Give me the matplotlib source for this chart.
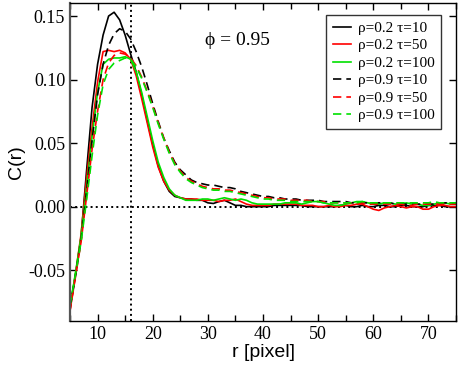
import matplotlib
matplotlib.use("Agg")
import matplotlib.pyplot as plt
from matplotlib.ticker import MultipleLocator

# r in pixels
r = list(range(5, 76))

# rho = 0.2
c_02_t10 = [-0.081, -0.054, -0.024, 0.028, 0.078, 0.112, 0.135, 0.150, 0.153, 0.147,
            0.135, 0.120, 0.106, 0.088, 0.068, 0.049, 0.032, 0.020, 0.012, 0.008,
            0.007, 0.006, 0.006, 0.005, 0.005, 0.003, 0.0025, 0.004, 0.005, 0.003,
            0.001, 0.001, 0.000, 0.000, 0.000, 0.000, 0.000, 0.001, 0.001, 0.001,
            0.001, 0.001, 0.001, 0.000, 0.000, 0.000, 0.000, 0.000, 0.000, 0.001,
            0.001, 0.000, 0.000, 0.001, 0.000, 0.000, 0.001, 0.001, 0.000, 0.000,
            0.001, 0.001, 0.000, 0.000, 0.000, 0.001, 0.001, 0.001, 0.000, 0.000,
            0.000]
c_02_t50 = [-0.082, -0.053, -0.022, 0.022, 0.062, 0.098, 0.122, 0.123, 0.122, 0.123,
            0.121, 0.116, 0.103, 0.085, 0.066, 0.047, 0.031, 0.020, 0.013, 0.009,
            0.007, 0.006, 0.006, 0.006, 0.005, 0.005, 0.005, 0.004, 0.005, 0.005,
            0.006, 0.004, 0.002, 0.001, 0.001, 0.001, 0.001, 0.002, 0.002, 0.002,
            0.002, 0.002, 0.001, 0.001, 0.001, 0.000, 0.000, 0.001, 0.000, 0.000,
            0.001, 0.001, 0.002, 0.002, 0.000, -0.002, -0.003, -0.001, 0.000, 0.001,
            0.000, -0.001, 0.000, 0.000, -0.002, -0.002, 0.000, 0.001, 0.001, 0.000,
            0.000]
c_02_t100 = [-0.079, -0.052, -0.024, 0.015, 0.055, 0.090, 0.112, 0.116, 0.117, 0.117,
             0.118, 0.116, 0.106, 0.090, 0.071, 0.052, 0.035, 0.023, 0.014, 0.009,
             0.007, 0.005, 0.005, 0.005, 0.006, 0.006, 0.005, 0.006, 0.007, 0.006,
             0.005, 0.006, 0.005, 0.003, 0.002, 0.002, 0.002, 0.002, 0.002, 0.003,
             0.003, 0.003, 0.002, 0.003, 0.004, 0.004, 0.003, 0.002, 0.001, 0.001,
             0.002, 0.003, 0.004, 0.004, 0.003, 0.002, 0.002, 0.003, 0.003, 0.002,
             0.002, 0.003, 0.002, 0.002, 0.001, 0.001, 0.002, 0.003, 0.003, 0.002,
             0.002]

# rho = 0.9
c_09_t10 = [-0.079, -0.054, -0.027, 0.012, 0.052, 0.088, 0.112, 0.127, 0.136, 0.140,
            0.138, 0.132, 0.122, 0.110, 0.096, 0.081, 0.067, 0.054, 0.044, 0.035,
            0.029, 0.025, 0.021, 0.019, 0.018, 0.017, 0.017, 0.016, 0.015, 0.015,
            0.014, 0.012, 0.011, 0.010, 0.009, 0.008, 0.008, 0.007, 0.007, 0.006,
            0.006, 0.006, 0.005, 0.005, 0.005, 0.005, 0.004, 0.004, 0.004, 0.004,
            0.004, 0.003, 0.003, 0.003, 0.003, 0.003, 0.003, 0.003, 0.003, 0.002,
            0.002, 0.002, 0.002, 0.002, 0.002, 0.002, 0.002, 0.002, 0.003, 0.003,
            0.002]
c_09_t50 = [-0.082, -0.055, -0.028, 0.008, 0.045, 0.075, 0.100, 0.113, 0.119, 0.121,
            0.120, 0.117, 0.111, 0.102, 0.091, 0.079, 0.066, 0.054, 0.043, 0.034,
            0.028, 0.023, 0.020, 0.018, 0.016, 0.015, 0.014, 0.014, 0.013, 0.013,
            0.012, 0.011, 0.010, 0.009, 0.008, 0.007, 0.007, 0.006, 0.006, 0.006,
            0.005, 0.005, 0.005, 0.005, 0.004, 0.004, 0.004, 0.003, 0.003, 0.003,
            0.003, 0.003, 0.002, 0.003, 0.002, 0.002, 0.002, 0.002, 0.002, 0.002,
            0.002, 0.001, 0.001, 0.002, 0.002, 0.002, 0.002, 0.002, 0.002, 0.002,
            0.002]
c_09_t100 = [-0.078, -0.053, -0.028, 0.005, 0.040, 0.072, 0.096, 0.108, 0.113, 0.115,
             0.117, 0.116, 0.110, 0.101, 0.090, 0.078, 0.065, 0.053, 0.042, 0.033,
             0.027, 0.022, 0.019, 0.017, 0.015, 0.014, 0.013, 0.013, 0.012, 0.012,
             0.011, 0.010, 0.009, 0.008, 0.007, 0.006, 0.006, 0.005, 0.005, 0.005,
             0.004, 0.004, 0.004, 0.004, 0.004, 0.004, 0.003, 0.003, 0.003, 0.003,
             0.003, 0.003, 0.003, 0.004, 0.003, 0.003, 0.003, 0.003, 0.003, 0.003,
             0.003, 0.003, 0.003, 0.003, 0.003, 0.003, 0.004, 0.003, 0.003, 0.003,
             0.003]

series = [
    (c_02_t10, "black", "-", "ρ=0.2 τ=10"),
    (c_02_t50, "#ff0000", "-", "ρ=0.2 τ=50"),
    (c_02_t100, "#00e000", "-", "ρ=0.2 τ=100"),
    (c_09_t10, "black", "--", "ρ=0.9 τ=10"),
    (c_09_t50, "#ff0000", "--", "ρ=0.9 τ=50"),
    (c_09_t100, "#00e000", "--", "ρ=0.9 τ=100"),
]

serif = ["Liberation Serif", "DejaVu Serif"]
sans = ["Liberation Sans", "DejaVu Sans"]

fig = plt.figure(figsize=(4.59, 3.70), dpi=100)
ax = fig.add_axes([0.1525, 0.1324, 0.841, 0.8586])

for vals, col, ls, lab in series:
    ax.plot(r, vals, color=col, ls=ls, lw=1.2, label=lab,
            dashes=(5, 3) if ls == "--" else (None, None))

ax.axhline(0, color="black", ls=":", lw=1.4, zorder=0)
ax.axvline(16, color="black", ls=":", lw=1.4, zorder=0)

ax.set_xlim(5, 75)
ax.set_ylim(-0.09, 0.16)
ax.xaxis.set_major_locator(MultipleLocator(10))
ax.xaxis.set_minor_locator(MultipleLocator(5))
ax.set_yticks([-0.05, 0.0, 0.05, 0.10, 0.15])
ax.set_yticklabels(["-0.05", "0.00", "0.05", "0.10", "0.15"])
ax.tick_params(which="both", direction="in", top=True, right=True)
ax.tick_params(which="major", length=5, width=1)
ax.tick_params(which="minor", length=4, width=1)
for lab in ax.get_xticklabels() + ax.get_yticklabels():
    lab.set_family(serif)
    lab.set_fontsize(13)

ax.set_xlabel("r [pixel]", family=sans, fontsize=14, labelpad=1)
ax.set_ylabel("C(r)", family=sans, fontsize=14, labelpad=2)

ax.text(0.35, 0.87, "ϕ = 0.95", transform=ax.transAxes, family=serif, fontsize=14)

leg = ax.legend(loc="upper right", prop={"family": serif, "size": 11},
                frameon=True, fancybox=False, handlelength=1.2, handletextpad=0.5,
                labelspacing=0.25, borderpad=0.4, borderaxespad=0,
                bbox_to_anchor=(0.962, 0.963))
leg.get_frame().set_edgecolor("black")
leg.get_frame().set_linewidth(1.0)

for s in ax.spines.values():
    s.set_linewidth(1.0)
ax.spines["left"].set_color("#555555")
ax.spines["left"].set_linewidth(1.6)

fig.savefig("out.png", dpi=100)
